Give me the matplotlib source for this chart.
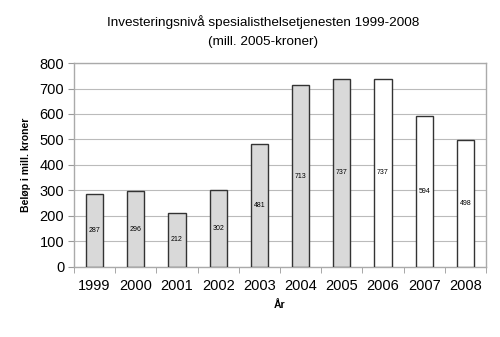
import numpy as np
import matplotlib
matplotlib.use('Agg')
import matplotlib.pyplot as plt

plt.rcParams['font.family'] = ['Liberation Sans', 'DejaVu Sans']

years = ['1999', '2000', '2001', '2002', '2003', '2004', '2005', '2006', '2007', '2008']
values = [287, 296, 212, 302, 481, 713, 737, 737, 594, 498]
# last three years are projections, drawn without fill
projected = [False] * 7 + [True] * 3

fig = plt.figure(figsize=(5, 3.37), dpi=100)
ax = fig.add_axes([0.148, 0.208, 0.824, 0.605])

x = np.arange(len(years))
colors = ['white' if p else '#d9d9d9' for p in projected]
bars = ax.bar(x, values, width=0.42, color=colors, edgecolor='#333333', linewidth=1.0, zorder=3)

for xi, v in zip(x, values):
    ax.text(xi, v / 2, str(v), ha='center', va='center', fontsize=5, zorder=4)

ax.set_ylim(0, 800)
ax.set_yticks(range(0, 801, 100))
ax.set_xlim(-0.5, len(years) - 0.5)
ax.set_xticks(x)
ax.set_xticklabels(years)
ax.set_xticks(np.arange(-0.5, len(years), 1), minor=True)
ax.tick_params(axis='x', which='major', length=0, labelsize=10.5, pad=9)
ax.tick_params(axis='x', which='minor', length=4, color='#999999')
ax.tick_params(axis='y', length=4, color='#999999', labelsize=10.5, pad=3)

ax.grid(axis='y', color='#bbbbbb', linewidth=0.8, zorder=0)
for s in ax.spines.values():
    s.set_color('#aaaaaa')
    s.set_linewidth(1.0)

ax.set_ylabel('Beløp i mill. kroner', fontsize=7.5, fontweight='bold', labelpad=6)
ax.set_xlabel('År', fontsize=7.5, fontweight='bold', labelpad=5)
fig.text(0.527, 0.935, 'Investeringsnivå spesialisthelsetjenesten 1999-2008', ha='center', va='center', fontsize=9.7)
fig.text(0.527, 0.875, '(mill. 2005-kroner)', ha='center', va='center', fontsize=9.7)

fig.savefig('out.png', dpi=100)
